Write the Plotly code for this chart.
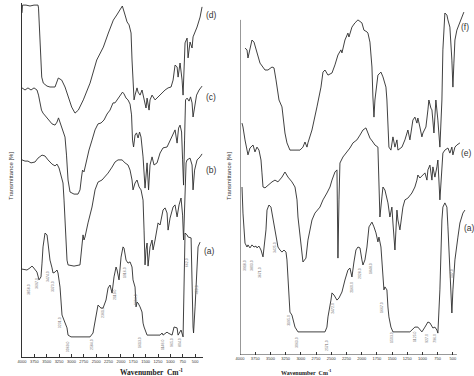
import plotly.graph_objects as go

# ---------------- data (wavenumber cm-1, stacked transmittance, arbitrary offset units) -------------
tick_vals = [4000, 3750, 3500, 3250, 3000, 2750, 2500, 2250, 2000, 1750, 1500, 1250, 1000, 750, 500]
tick_text = [str(v) for v in tick_vals]

# Left panel
d_wn = [4000, 3990, 3919, 3838, 3757, 3676, 3666, 3636, 3601, 3569, 3494, 3434, 3332, 3266, 3197, 3130, 3063,
        2995, 2928, 2861, 2760, 2624, 2489, 2355, 2254, 2153, 2084, 2017, 1971, 1916, 1876, 1835, 1795, 1775,
        1755, 1734, 1714, 1674, 1653, 1613, 1573, 1532, 1492, 1471, 1431, 1411, 1370, 1309, 1249, 1208, 1148,
        1107, 1046, 986, 945, 905, 864, 844, 804, 763, 743, 703, 662, 642, 602, 561, 541, 460, 399, 359]
d_T = [114.7, 117.3, 117.3, 117.0, 117.3, 117.3, 116.3, 105.7, 93.3, 91.3, 90.3, 90.0, 90.0, 93.0, 92.3, 90.0,
       86.7, 83.3, 81.3, 82.3, 85.7, 91.3, 99.0, 103.3, 108.0, 112.3, 114.0, 115.7, 117.0, 114.0, 111.7, 110.7,
       108.0, 99.0, 89.0, 85.7, 87.3, 89.7, 88.3, 87.3, 89.0, 85.7, 83.0, 86.3, 82.3, 85.7, 87.3, 85.7, 86.7,
       87.3, 88.3, 89.0, 89.7, 90.0, 92.3, 97.3, 96.7, 93.3, 98.0, 92.3, 87.3, 104.7, 106.3, 99.7, 105.0, 103.0,
       106.7, 110.0, 113.3, 116.7]

c_wn = [4000, 3939, 3879, 3818, 3757, 3697, 3666, 3636, 3606, 3575, 3514, 3454, 3393, 3332, 3292, 3262, 3231,
        3191, 3160, 3130, 3100, 3069, 3029, 2948, 2867, 2827, 2796, 2776, 2746, 2705, 2645, 2584, 2523, 2463,
        2402, 2341, 2280, 2220, 2159, 2119, 2078, 2038, 1997, 1967, 1937, 1896, 1856, 1815, 1785, 1765, 1744,
        1714, 1684, 1653, 1623, 1593, 1552, 1512, 1471, 1441, 1411, 1370, 1330, 1269, 1208, 1148, 1067, 1006,
        945, 905, 864, 834, 804, 773, 753, 733, 713, 693, 662, 622, 592, 561, 541, 510, 470, 419, 359]
c_T = [89.7, 89.0, 89.7, 89.0, 89.7, 89.0, 87.3, 84.7, 82.3, 81.3, 80.0, 78.7, 77.7, 77.3, 78.3, 79.7, 78.3,
       76.7, 74.7, 73.3, 67.3, 59.0, 55.0, 54.3, 54.3, 55.7, 60.0, 62.3, 61.7, 64.7, 69.0, 72.3, 75.7, 77.7,
       78.0, 79.0, 81.0, 82.3, 84.7, 84.7, 85.7, 87.0, 88.0, 88.3, 87.7, 86.3, 85.7, 84.3, 80.7, 72.3, 70.0,
       74.0, 74.7, 73.0, 75.0, 73.3, 66.7, 56.3, 64.7, 55.7, 64.0, 66.7, 64.0, 64.7, 68.0, 69.7, 70.0, 72.3,
       74.7, 75.7, 71.3, 76.3, 77.3, 75.0, 65.7, 57.3, 72.3, 85.7, 86.3, 85.3, 86.7, 84.7, 80.0, 84.0, 87.3,
       89.0, 90.3]

b_wn = [4000, 3939, 3879, 3818, 3737, 3676, 3595, 3535, 3474, 3393, 3332, 3292, 3251, 3211, 3171, 3150, 3130,
        3110, 3090, 3069, 2948, 2827, 2806, 2786, 2766, 2746, 2726, 2665, 2584, 2523, 2463, 2382, 2321, 2260,
        2179, 2119, 2058, 1977, 1916, 1856, 1815, 1775, 1755, 1714, 1674, 1633, 1593, 1552, 1532, 1512, 1492,
        1471, 1451, 1411, 1370, 1350, 1309, 1249, 1208, 1148, 1107, 1067, 1046, 1006, 945, 905, 864, 824, 784,
        753, 733, 713, 682, 662, 602, 561, 541, 510, 460, 399, 359]
b_T = [65.7, 65.3, 65.3, 64.7, 65.0, 66.3, 67.3, 67.0, 65.7, 64.3, 63.7, 64.3, 63.0, 60.7, 58.0, 52.3, 44.7,
       36.7, 32.3, 30.7, 30.3, 30.7, 34.7, 39.7, 40.7, 39.0, 40.0, 44.7, 50.0, 55.7, 58.3, 59.0, 60.0, 61.3,
       63.3, 65.0, 65.7, 65.7, 64.7, 64.0, 62.3, 59.0, 55.7, 58.0, 59.0, 56.7, 55.7, 52.3, 42.3, 30.7, 35.7,
       38.0, 30.3, 36.7, 39.0, 35.7, 39.0, 44.7, 44.0, 49.0, 49.7, 48.0, 42.3, 46.3, 50.0, 50.7, 46.7, 50.7,
       53.0, 47.3, 39.0, 50.7, 64.7, 65.7, 66.3, 64.0, 55.7, 62.3, 65.7, 66.7, 67.7]

a1_wn = [4000, 3899, 3838, 3798, 3777, 3737, 3697, 3656, 3616, 3595, 3575, 3535, 3494, 3474, 3434, 3393, 3373,
         3332, 3292, 3272, 3231, 3191, 3171, 3130, 3090, 3069, 3009, 2624, 2564, 2543, 2483, 2463, 2402, 2361,
         2301, 2260, 2220, 2179, 2139, 2098, 2078, 2038, 1997, 1957, 1937, 1896, 1856, 1815, 1775, 1755, 1714,
         1694, 1674, 1653, 1613, 1573, 1552, 1532, 1471, 1208, 1168, 1148, 1067, 1046, 965, 925, 864, 844, 784,
         763, 743, 703, 662, 642, 581, 541, 531, 500, 460, 440, 399]
a1_T = [29.3, 29.0, 29.7, 30.3, 30.0, 29.0, 28.3, 25.7, 26.7, 31.3, 36.7, 41.3, 40.7, 38.0, 32.3, 29.7, 28.0,
        28.3, 29.0, 28.0, 23.3, 14.0, 13.0, 11.3, 9.7, 7.3, 6.7, 6.7, 8.0, 10.0, 16.3, 17.3, 16.3, 16.3, 19.0,
        23.0, 24.0, 21.3, 26.7, 30.0, 29.0, 25.7, 33.3, 36.7, 36.3, 32.3, 31.3, 31.7, 30.0, 25.7, 23.3, 16.7,
        18.3, 18.0, 16.7, 15.0, 11.3, 10.0, 7.3, 7.3, 8.0, 7.3, 8.3, 8.0, 7.3, 10.0, 9.7, 7.3, 9.0, 8.0, 6.7,
        41.3, 40.7, 40.0, 39.7, 10.0, 8.0, 16.7, 28.0, 36.7, 38.3]

# peak labels printed under spectrum (a), left panel: wavenumber and label height
a1_peak_wn = [3858, 3697, 3474, 3373, 3231, 3069, 2584, 2361, 2119, 1916, 1694, 1613, 1148, 965, 804, 662, 460]
a1_peak_T = [22.3, 24.7, 26.7, 23.3, 11.3, 3.3, 4.0, 14.7, 20.7, 28.0, 19.0, 4.7, 4.0, 4.7, 4.7, 31.3, 22.3]

# Right panel
f_wn = [3918, 3885, 3869, 3836, 3803, 3770, 3721, 3671, 3589, 3540, 3474, 3441, 3408, 3376, 3359, 3310, 3293,
        3261, 3228, 3179, 3014, 2965, 2932, 2899, 2883, 2817, 2735, 2669, 2636, 2603, 2554, 2488, 2439, 2390,
        2341, 2324, 2275, 2226, 2209, 2160, 2111, 2061, 1996, 1963, 1913, 1897, 1864, 1831, 1815, 1798, 1782,
        1749, 1733, 1683, 1650, 1601, 1585, 1552, 1519, 1486, 1453, 1420, 1404, 1338, 1289, 1240, 1207, 1158,
        1125, 1092, 1076, 1043, 1010, 993, 944, 911, 895, 862, 845, 812, 796, 780, 747, 730, 714, 681, 665, 632,
        599, 582, 550, 517, 500, 484, 467, 435, 385, 352, 320]
f_T = [102.3, 101.7, 99.0, 102.7, 105.0, 104.3, 100.7, 97.3, 95.0, 95.0, 96.0, 95.7, 91.7, 86.0, 85.0, 82.7,
       79.3, 74.0, 70.7, 68.3, 68.3, 69.3, 71.0, 69.3, 70.7, 75.0, 82.7, 89.3, 94.3, 95.0, 93.3, 94.0, 96.7,
       100.0, 101.7, 100.7, 105.0, 107.3, 106.0, 109.3, 110.7, 111.7, 110.7, 108.3, 107.7, 107.3, 104.3, 96.0,
       86.0, 79.3, 85.0, 90.7, 93.3, 94.3, 92.7, 89.3, 85.0, 69.3, 68.3, 72.7, 69.3, 71.7, 68.3, 69.3, 71.7,
       75.0, 71.7, 78.3, 79.3, 77.3, 79.0, 76.0, 72.7, 74.0, 76.0, 81.7, 85.0, 82.3, 81.7, 74.0, 81.7, 85.0,
       78.3, 72.7, 69.3, 85.0, 101.7, 114.0, 113.3, 111.7, 109.3, 98.3, 89.3, 97.3, 105.0, 108.3, 110.7, 112.7,
       114.3]

e_wn = [3967, 3951, 3918, 3869, 3836, 3786, 3754, 3721, 3688, 3655, 3639, 3622, 3589, 3540, 3474, 3425, 3376,
        3310, 3261, 3211, 3146, 3096, 3063, 3047, 3014, 2981, 2965, 2916, 2883, 2817, 2768, 2686, 2636, 2571,
        2521, 2488, 2439, 2406, 2390, 2373, 2357, 2308, 2242, 2193, 2143, 2078, 2028, 1979, 1930, 1897, 1864,
        1815, 1782, 1733, 1716, 1700, 1667, 1650, 1618, 1585, 1568, 1536, 1503, 1486, 1453, 1420, 1404, 1371,
        1338, 1322, 1289, 1240, 1174, 1125, 1092, 1076, 1043, 1010, 960, 927, 911, 878, 845, 829, 796, 763, 747,
        714, 681, 665, 632, 582, 550, 517, 500, 467, 435, 385]
e_T = [77.3, 76.0, 71.7, 66.7, 69.0, 70.0, 67.7, 69.3, 68.3, 65.0, 60.7, 56.0, 55.7, 56.7, 57.7, 58.3, 57.7,
       59.3, 61.0, 59.3, 57.7, 56.0, 51.7, 46.0, 39.3, 32.7, 31.0, 32.3, 38.3, 45.0, 47.3, 49.3, 51.7, 54.0,
       56.0, 58.3, 61.0, 61.7, 32.3, 51.7, 64.0, 66.0, 67.7, 69.0, 70.7, 71.7, 73.3, 75.0, 75.7, 74.0, 72.3,
       71.0, 70.0, 69.3, 58.3, 46.0, 52.7, 56.0, 55.0, 52.7, 50.7, 46.0, 49.3, 44.0, 35.0, 48.3, 45.0, 41.7,
       46.0, 49.3, 51.7, 52.3, 54.0, 56.0, 58.3, 60.0, 59.0, 59.7, 60.7, 58.3, 61.7, 63.3, 58.3, 62.7, 59.3,
       62.7, 65.0, 51.7, 65.0, 67.3, 68.3, 69.0, 67.3, 69.3, 66.7, 69.3, 70.0, 70.7]

a2_wn = [3967, 3951, 3918, 3885, 3869, 3836, 3803, 3770, 3737, 3721, 3688, 3655, 3622, 3606, 3573, 3556, 3524,
         3491, 3474, 3441, 3392, 3376, 3343, 3310, 3277, 3244, 3228, 3195, 3179, 3146, 3129, 3096, 3047, 2603,
         2571, 2554, 2505, 2488, 2455, 2406, 2373, 2324, 2275, 2226, 2193, 2160, 2127, 2094, 2061, 2028, 1996,
         1979, 1946, 1913, 1880, 1831, 1798, 1765, 1733, 1716, 1683, 1667, 1650, 1634, 1618, 1585, 1568, 1552,
         1519, 1486, 1207, 1174, 1125, 1076, 1043, 1010, 960, 911, 878, 845, 829, 796, 763, 747, 714, 681, 665,
         632, 599, 582, 550, 517, 500, 467, 418, 385, 336, 303]
a2_T = [56.0, 47.3, 37.3, 36.0, 36.7, 35.7, 36.7, 36.0, 36.3, 35.7, 36.3, 35.0, 32.7, 36.0, 41.7, 48.3, 50.0,
        49.3, 47.3, 42.7, 37.7, 36.0, 35.0, 34.3, 35.0, 34.3, 31.7, 21.7, 14.3, 13.3, 11.7, 9.3, 7.7, 7.7, 9.3,
        12.7, 18.3, 20.7, 20.0, 18.3, 19.0, 21.0, 25.0, 28.3, 29.0, 26.0, 31.0, 35.0, 36.0, 35.7, 31.7, 30.0,
        31.7, 36.0, 42.7, 44.3, 42.7, 40.7, 37.7, 39.3, 36.0, 30.7, 25.0, 21.7, 22.7, 21.7, 16.0, 12.7, 9.3,
        7.7, 7.7, 8.3, 9.3, 9.3, 8.3, 7.7, 9.3, 11.0, 10.7, 9.3, 9.0, 9.3, 8.3, 7.3, 21.7, 45.0, 49.3, 50.7,
        49.3, 42.7, 27.3, 14.0, 21.7, 31.7, 39.3, 44.0, 47.3, 48.3]

a2_peak_wn = [3918, 3803, 3671, 3425, 3195, 3063, 2571, 2472, 2160, 2028, 1848, 1667, 1503, 1125, 927, 796, 517]
a2_peak_T = [30.0, 30.0, 27.3, 36.0, 11.7, 4.0, 3.3, 15.7, 22.7, 27.3, 29.0, 16.0, 6.0, 6.0, 5.7, 5.7, 27.3]

left_labels = ["(d)", "(c)", "(b)", "(a)"]
right_labels = ["(f)", "(e)", "(a)"]

# ---------------- figure -------------
W, H = 474, 376
LINE = dict(color="#2b2b2b", width=0.9)
GRAY = "#707070"

fig = go.Figure()
for wn, T in [(d_wn, d_T), (c_wn, c_T), (b_wn, b_T), (a1_wn, a1_T)]:
    fig.add_trace(go.Scatter(x=wn, y=T, mode="lines", line=LINE, xaxis="x", yaxis="y",
                             showlegend=False, hoverinfo="skip"))
for wn, T in [(f_wn, f_T), (e_wn, e_T), (a2_wn, a2_T)]:
    fig.add_trace(go.Scatter(x=wn, y=T, mode="lines", line=LINE, xaxis="x2", yaxis="y2",
                             showlegend=False, hoverinfo="skip"))

# small vertical peak-position labels beneath the (a) spectra
for ax, pw, pt in [("", a1_peak_wn, a1_peak_T), ("2", a2_peak_wn, a2_peak_T)]:
    for w, t in zip(pw, pt):
        fig.add_annotation(x=w, y=t, xref="x" + ax, yref="y" + ax, text=f"{w:.1f}", textangle=-90,
                           showarrow=False, borderpad=0,
                           font=dict(size=3.5, family="Liberation Sans", color=GRAY))

axis_common = dict(showgrid=False, zeroline=False, tickvals=tick_vals, ticktext=tick_text, automargin=False,
                   ticks="inside", ticklen=3, tickcolor="#333", tickwidth=0.8, tickangle=0,
                   tickfont=dict(size=4, family="Liberation Sans", color="#333"))

fig.update_layout(
    width=W, height=H, margin=dict(l=0, r=0, t=0, b=0, pad=0),
    paper_bgcolor="white", plot_bgcolor="white", showlegend=False,
    xaxis=dict(domain=[22 / W, 203 / W], range=[4000, 340], anchor="y",
               showline=True, linecolor="#333", linewidth=1, **axis_common),
    yaxis=dict(domain=[1 - 357 / H, 1 - 3 / H], range=[0, 118], anchor="x", automargin=False,
               showline=True, linecolor="#333", linewidth=1, showticklabels=False,
               ticks="", showgrid=False, zeroline=False),
    xaxis2=dict(domain=[240 / W, 466 / W], range=[4000, 285], anchor="y2",
                showline=False, **axis_common),
    yaxis2=dict(domain=[1 - 355 / H, 1 - 5 / H], range=[0, 350 / 3], anchor="x2", automargin=False,
                showline=False, showticklabels=False, ticks="", showgrid=False, zeroline=False),
)

# right-panel axis lines (shorter than the plotting area, as in the original)
fig.add_shape(type="line", xref="x2", yref="y2", x0=4000, x1=435, y0=0, y1=0,
              line=dict(color="#333", width=1))
fig.add_shape(type="line", xref="x2", yref="y2", x0=4000, x1=4000, y0=0, y1=111.7,
              line=dict(color="#333", width=1))

# spectrum labels
for lab, (px, py) in zip(left_labels, [(204, 15), (204, 97), (204, 170), (202, 251)]):
    fig.add_annotation(x=px / W, y=1 - py / H, xref="paper", yref="paper", text=lab, showarrow=False,
                       xanchor="left", yanchor="middle",
                       font=dict(size=8.5, family="Liberation Sans", color="#333"))
for lab, (px, py) in zip(right_labels, [(459, 27), (459, 153), (462, 228)]):
    fig.add_annotation(x=px / W, y=1 - py / H, xref="paper", yref="paper", text=lab, showarrow=False,
                       xanchor="left", yanchor="middle",
                       font=dict(size=8.5, family="Liberation Sans", color="#333"))

# axis titles
fig.add_annotation(x=118 / W, y=1 - 372 / H, xref="paper", yref="paper",
                   text="<b>Wavenumber  Cm<sup>-1</sup></b>", showarrow=False, yanchor="middle",
                   font=dict(size=7.5, family="Liberation Serif", color="#222"))
fig.add_annotation(x=333 / W, y=1 - 372 / H, xref="paper", yref="paper",
                   text="<b>Wavenumber  Cm<sup>-1</sup></b>", showarrow=False, yanchor="middle",
                   font=dict(size=6, family="Liberation Serif", color="#222"))
for xp in [6, 229]:
    fig.add_annotation(x=xp / W, y=1 - 176 / H, xref="paper", yref="paper",
                       text="Transmittance [%]", textangle=-90, showarrow=False,
                       font=dict(size=6, family="Liberation Sans", color="#333"))

fig.write_html("out.html", config={"displayModeBar": False},
               post_script="document.body.style.margin='0px';document.body.style.padding='0px';")
